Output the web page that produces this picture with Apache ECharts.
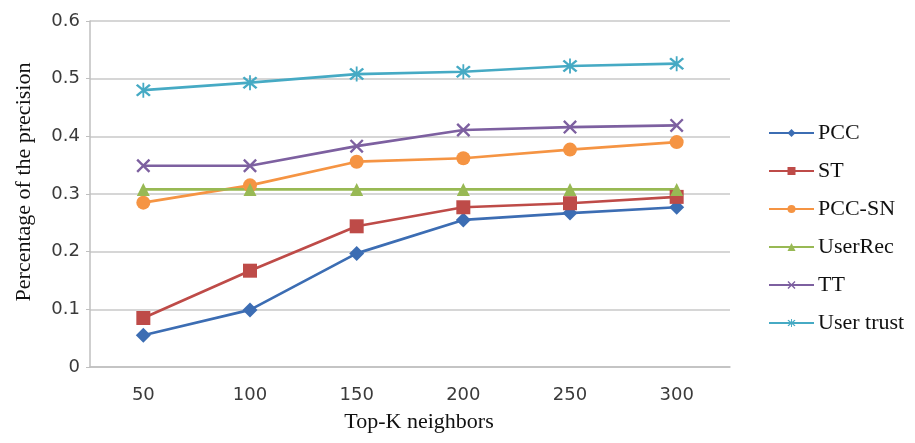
<!DOCTYPE html>
<html><head><meta charset="utf-8">
<script src="https://cdn.jsdelivr.net/npm/echarts@6/dist/echarts.min.js"></script>
<style>html,body{margin:0;padding:0;background:#fff}#c{width:915px;height:443px}</style>
</head><body><div id="c"></div>
<script>
var categories = ['50','100','150','200','250','300'];
var PCC = [0.055,0.099,0.197,0.255,0.267,0.277];
var ST = [0.085,0.167,0.244,0.277,0.284,0.295];
var PCC_SN = [0.285,0.315,0.356,0.362,0.377,0.390];
var UserRec = [0.308,0.308,0.308,0.308,0.308,0.308];
var TT = [0.349,0.349,0.383,0.411,0.416,0.419];
var UserTrust = [0.480,0.493,0.508,0.512,0.522,0.526];

var xPath = 'path://M0,1.2L1.2,0L10,8.8L8.8,10Z M8.8,0L10,1.2L1.2,10L0,8.8Z';
var starPath = 'path://M0,1.2L1.2,0L10,8.8L8.8,10Z M8.8,0L10,1.2L1.2,10L0,8.8Z M4.4,-1L5.6,-1L5.6,11L4.4,11Z';

function mk(name, data, color, symbol, size) {
  return {
    name: name, type: 'line', data: data,
    symbol: symbol, symbolSize: size,
    lineStyle: {color: color, width: 2.7},
    itemStyle: {color: color},
    emphasis: {disabled: true},
    animation: false
  };
}
var chart = echarts.init(document.getElementById('c'));
chart.setOption({
  animation: false,
  grid: {left: 90, right: 185, top: 21, bottom: 76},
  legend: {
    orient: 'vertical', left: 763, top: 117, itemGap: 16,
    itemWidth: 45, itemHeight: 10,
    textStyle: {fontFamily: 'Liberation Serif', fontSize: 22, color: '#111', padding: [0,0,0,-1]},
    data: ['PCC','ST','PCC-SN','UserRec','TT','User trust']
  },
  xAxis: {
    type: 'category', data: categories, boundaryGap: true,
    name: 'Top-K neighbors', nameLocation: 'middle', nameGap: 44,
    nameTextStyle: {fontFamily: 'Liberation Serif', fontSize: 22, color: '#111', padding: [0,0,0,18]},
    axisLine: {lineStyle: {color: '#bfbfbf', width: 1.5}},
    axisTick: {show: false},
    axisLabel: {fontFamily: 'DejaVu Sans', fontSize: 18, color: '#3a3a3a', margin: 19}
  },
  yAxis: {
    type: 'value', min: 0, max: 0.6, interval: 0.1,
    name: 'Percentage of the precision', nameLocation: 'middle', nameGap: 55,
    nameTextStyle: {fontFamily: 'Liberation Serif', fontSize: 22, color: '#111', padding: [0,0,0,24]},
    axisLine: {show: true, lineStyle: {color: '#bfbfbf', width: 1.5}},
    axisTick: {show: true, length: 4, lineStyle: {color: '#bfbfbf'}},
    splitLine: {lineStyle: {color: '#c8c8c8', width: 1.5}},
    axisLabel: {fontFamily: 'DejaVu Sans', fontSize: 18, color: '#3a3a3a', margin: 10}
  },
  series: [
    mk('PCC', PCC, '#3c6db3', 'diamond', 15),
    mk('ST', ST, '#be4b48', 'rect', 14),
    mk('PCC-SN', PCC_SN, '#f59443', 'circle', 14),
    mk('UserRec', UserRec, '#98b954', 'triangle', 13),
    mk('TT', TT, '#7d60a0', xPath, 14),
    mk('User trust', UserTrust, '#46aac4', starPath, 15)
  ]
});
</script></body></html>
